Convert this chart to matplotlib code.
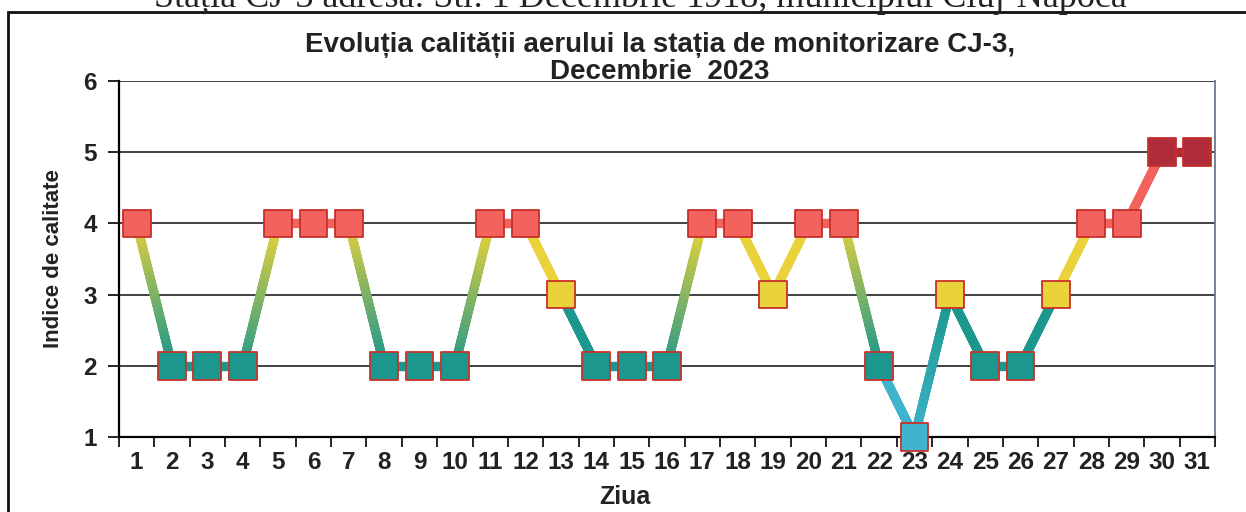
import numpy as np
import matplotlib
matplotlib.use("Agg")
import matplotlib.pyplot as plt
from matplotlib.collections import LineCollection
from matplotlib.colors import to_rgb
from matplotlib.patches import Rectangle

# air quality index, CJ-3, December 2023
days = list(range(1, 32))
index = [4, 2, 2, 2, 4, 4, 4, 2, 2, 2, 4, 4, 3, 2, 2, 2,
         4, 4, 3, 4, 4, 2, 1, 3, 2, 2, 3, 4, 4, 5, 5]
yticks = [1, 2, 3, 4, 5, 6]

# colour for each index level
level_colors = {1: '#3fb4cd', 2: '#1c978d', 3: '#e9d23a',
                4: '#f1635c', 5: '#b02c3a'}

title_1 = 'Evoluția calității aerului la stația de monitorizare CJ-3,'
title_2 = 'Decembrie  2023'
header = 'Stația CJ-3 adresa: Str. 1 Decembrie 1918, municipiul Cluj-Napoca'


def segment_pieces(x0, y0, x1, y1, n=40):
    """split one line segment into short pieces so it can carry a gradient."""
    lo, hi = min(y0, y1), max(y0, y1)
    c_lo = np.array(to_rgb(level_colors[lo]))
    c_hi = np.array(to_rgb(level_colors[hi - 1] if hi > lo else level_colors[lo]))
    t = np.linspace(0, 1, n + 1)
    xs = x0 + (x1 - x0) * t
    ys = y0 + (y1 - y0) * t
    segs, cols = [], []
    for k in range(n):
        segs.append([(xs[k], ys[k]), (xs[k + 1], ys[k + 1])])
        ym = 0.5 * (ys[k] + ys[k + 1])
        f = 0.0 if hi == lo else (ym - lo) / (hi - lo)
        cols.append(c_lo * (1 - f) + c_hi * f)
    return segs, cols


def main():
    plt.rcParams['font.family'] = ['Liberation Sans', 'DejaVu Sans']

    fig = plt.figure(figsize=(12.46, 5.12), dpi=100)
    ax = fig.add_axes([119 / 1246, 1 - 437 / 512, (1215 - 119) / 1246, (437 - 81) / 512])

    # gradient connecting line
    segs, cols = [], []
    for i in range(len(days) - 1):
        s, c = segment_pieces(days[i], index[i], days[i + 1], index[i + 1])
        segs += s
        cols += c
    lc = LineCollection(segs, colors=cols, linewidths=6.5, capstyle='projecting', zorder=3)
    ax.add_collection(lc)

    # square markers
    ax.scatter(days, index, marker='s', s=400,
               c=[level_colors[v] for v in index],
               edgecolors='#c8302a', linewidths=1.3, zorder=4, clip_on=False)

    ax.set_xlim(0.5, 31.5)
    ax.set_ylim(1, 6)
    ax.set_yticks(yticks)
    ax.set_xticks(days)
    ax.set_xticks(np.arange(0.5, 32, 1), minor=True)
    ax.tick_params(axis='x', which='major', length=0, pad=10)
    ax.tick_params(axis='x', which='minor', length=7, width=1.2, direction='out')
    ax.tick_params(axis='y', length=8, width=1.2, pad=8)
    for lab in ax.get_xticklabels() + ax.get_yticklabels():
        lab.set_fontsize(17.5)
        lab.set_fontweight('bold')
        lab.set_color('#222222')

    for v in yticks[1:]:
        ax.axhline(v, color='#333333', lw=1.3, zorder=1)

    ax.spines['top'].set_visible(False)
    ax.spines['left'].set_linewidth(1.6)
    ax.spines['bottom'].set_linewidth(1.6)
    ax.spines['right'].set_color('#6a7a90')
    ax.spines['right'].set_linewidth(1.3)

    ax.set_ylabel('Indice de calitate', fontsize=16, fontweight='bold', color='#222222')
    ax.yaxis.set_label_coords(-0.050, 0.5)
    ax.set_xlabel('Ziua', fontsize=18, fontweight='bold', color='#222222')
    ax.xaxis.set_label_coords((625 - 119) / (1215 - 119), -0.135)

    fig.text(660 / 1246, 1 - 52 / 512, title_1, ha='center', va='baseline',
             fontsize=20, fontweight='bold', color='#222222')
    fig.text(660 / 1246, 1 - 79 / 512, title_2, ha='center', va='baseline',
             fontsize=20, fontweight='bold', color='#222222')

    # cut-off page header above the frame
    fig.text(640 / 1246, 1 - 7 / 512, header, ha='center', va='baseline',
             fontsize=26, family=['Liberation Serif', 'DejaVu Serif'], color='#222222')

    # frame around the chart
    fig.patches.append(Rectangle((8 / 1246, -0.1), 1.2, 1 - 12 / 512 + 0.1,
                                 transform=fig.transFigure, fill=False,
                                 edgecolor='#111111', linewidth=2))

    fig.savefig('out.png', dpi=100)


if __name__ == '__main__':
    main()
